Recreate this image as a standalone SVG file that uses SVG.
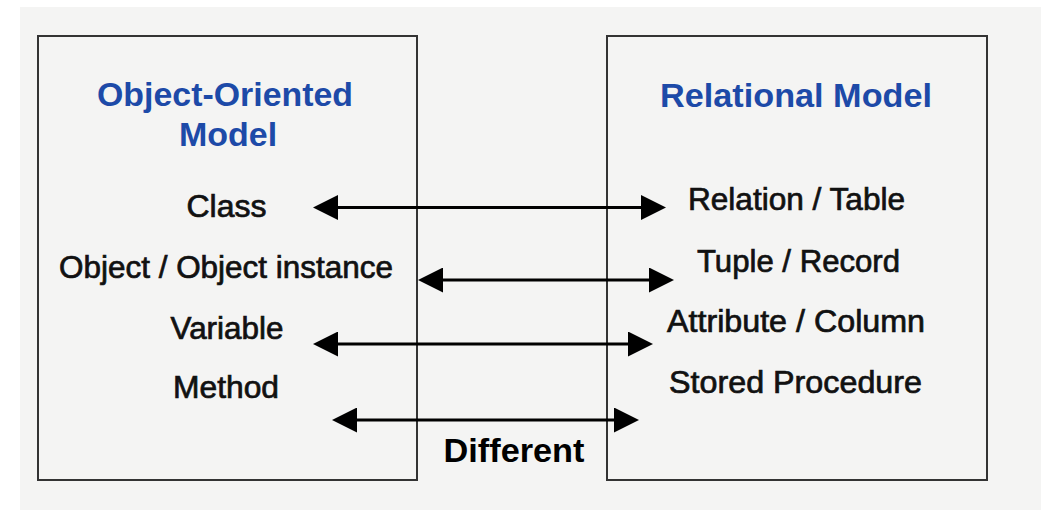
<svg xmlns="http://www.w3.org/2000/svg" width="1041" height="510" viewBox="0 0 1041 510">
  <style>
    .box { fill: none; stroke: #333; stroke-width: 2; }
    .title { font-family: "Liberation Sans", Arial, sans-serif; font-weight: bold; fill: #1d4aa8; text-anchor: middle; }
    .item { font-family: "Liberation Sans", Arial, sans-serif; font-size: 31px; fill: #111; stroke: #111; stroke-width: 0.7; text-anchor: middle; }
    .label { font-family: "Liberation Sans", Arial, sans-serif; font-weight: bold; font-size: 34px; fill: #000; text-anchor: middle; }
    .link { stroke: #000; stroke-width: 3; fill: none; marker-start: url(#head); marker-end: url(#head); }
  </style>
  <defs>
    <marker id="head" viewBox="0 0 25 25" refX="21" refY="12.5" markerWidth="25" markerHeight="25" markerUnits="userSpaceOnUse" orient="auto-start-reverse">
      <path d="M0,0 L25,12.5 L0,25 z" fill="#000"/>
    </marker>
  </defs>

  <!-- canvas -->
  <rect x="0" y="0" width="1041" height="510" fill="#ffffff"/>
  <rect x="20" y="7" width="1021" height="503" fill="#f4f4f3"/>

  <g id="object-oriented-model">
    <rect class="box" x="38" y="36" width="379" height="444"/>
    <text class="title" x="225" y="106" font-size="34" textLength="256" lengthAdjust="spacingAndGlyphs">Object-Oriented</text>
    <text class="title" x="228" y="146" font-size="34">Model</text>
    <text class="item" x="226.5" y="217" textLength="80" lengthAdjust="spacingAndGlyphs">Class</text>
    <text class="item" x="226" y="278" textLength="334" lengthAdjust="spacingAndGlyphs">Object / Object instance</text>
    <text class="item" x="227" y="339" textLength="113" lengthAdjust="spacingAndGlyphs">Variable</text>
    <text class="item" x="226" y="398" textLength="106" lengthAdjust="spacingAndGlyphs">Method</text>
  </g>

  <g id="relational-model">
    <rect class="box" x="607" y="36" width="380" height="444"/>
    <text class="title" x="796" y="107" font-size="34" textLength="272" lengthAdjust="spacingAndGlyphs">Relational Model</text>
    <text class="item" x="796.5" y="210" textLength="217" lengthAdjust="spacingAndGlyphs">Relation / Table</text>
    <text class="item" x="798.5" y="272" textLength="203" lengthAdjust="spacingAndGlyphs">Tuple / Record</text>
    <text class="item" x="796" y="332" textLength="258" lengthAdjust="spacingAndGlyphs">Attribute / Column</text>
    <text class="item" x="795.5" y="393" textLength="253" lengthAdjust="spacingAndGlyphs">Stored Procedure</text>
  </g>

  <g id="connectors">
    <line class="link" x1="317" y1="207.5" x2="662" y2="207.5"/>
    <line class="link" x1="422" y1="280" x2="670" y2="280"/>
    <line class="link" x1="317" y1="344" x2="649" y2="344"/>
    <line class="link" x1="336" y1="420" x2="635" y2="420"/>
    <text class="label" x="514" y="462" textLength="141" lengthAdjust="spacingAndGlyphs">Different</text>
  </g>
</svg>
